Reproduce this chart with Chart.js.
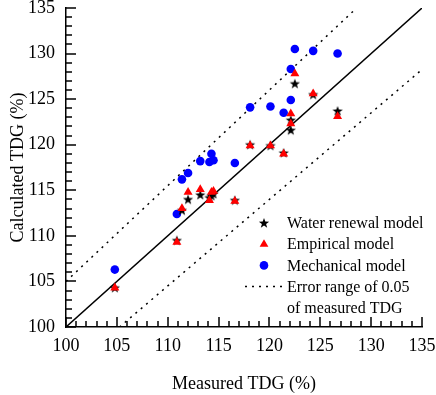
<!DOCTYPE html>
<html lang="en">
<head>
<meta charset="UTF-8">
<title>Calculated vs measured TDG</title>
<script src="https://cdn.jsdelivr.net/npm/chart.js"></script>
<style>
body{
  margin:0;
  background:white;
}
#wrap{
  width:436px;
  height:395px;
  position:relative;
}
</style>
</head>
<body>

<div id="wrap"><canvas id="chart" width="436" height="395"></canvas></div>

<script>
// measured TDG (%) shared by all three models
const measured      = [104.8, 110.9, 111.4, 112.0, 113.2, 114.1, 114.3, 114.5, 116.6, 118.1, 120.1, 121.4, 122.1, 122.1, 122.5, 124.3, 126.7];
// calculated TDG (%)
const waterRenewal  = [104.3, 109.5, 112.8, 114.0, 114.5, 114.2, 114.4, 114.6, 113.9, 120.0, 119.9, 119.1, 122.7, 121.6, 126.7, 125.5, 123.7];
const empirical     = [104.3, 109.3, 113.0, 114.8, 115.1, 113.9, 114.8, 114.9, 113.8, 119.9, 119.9, 119.0, 123.4, 122.3, 127.8, 125.6, 123.1];
const mechanical    = [106.3, 112.4, 116.2, 116.9, 118.2, 118.1, 119.0, 118.3, 118.0, 124.1, 124.2, 123.5, 124.9, 128.3, 130.5, 130.3, 130.0];

// reference lines (end points)
const perfectLine   = [[100, 100], [135, 135]];
const upperError    = [[100, 105], [128.57, 135]];
const lowerError    = [[105.26, 100], [135, 128.25]];

const axisMin = 100, axisMax = 135, majorStep = 5, minorStep = 1;

const legendItems = ["Water renewal model", "Empirical model", "Mechanical model", "Error range of 0.05", "of measured TDG"];

const FONT = '"Liberation Serif", "Times New Roman", serif';

function pts(xs, ys){ return xs.map((x,i)=>({x:x, y:ys[i]})); }
function linePts(a){ return a.map(p=>({x:p[0], y:p[1]})); }

// filled five point star for the water renewal model
function starPath(ctx, cx, cy, ro, ri){
  ctx.beginPath();
  for(let i=0;i<10;i++){
    let r = i%2===0 ? ro : ri;
    let a = -Math.PI/2 + i*Math.PI/5;
    let px = cx + Math.cos(a)*r, py = cy + Math.sin(a)*r;
    if(i===0) ctx.moveTo(px,py); else ctx.lineTo(px,py);
  }
  ctx.closePath();
}
const starImg = document.createElement('canvas');
starImg.width = 12; starImg.height = 12;
(function(){
  let c = starImg.getContext('2d');
  c.fillStyle = '#000';
  starPath(c, 6, 6.4, 5.4, 2.2);
  c.fill();
})();

// legend inside the plot area + inward major/minor ticks
const decor = {
  id:'decor',
  afterDraw(chart){
    const ctx = chart.ctx;
    const mx = 264, tx = 287, y0 = 223, dy = 21.2;
    ctx.save();
    ctx.font = '16px ' + FONT;
    ctx.fillStyle = '#000';
    ctx.textBaseline = 'middle';
    ctx.textAlign = 'left';
    legendItems.forEach((t,i)=>{ ctx.fillText(t, tx, y0 + i*dy + 1); });

    // star
    ctx.fillStyle = '#000';
    starPath(ctx, mx, y0 + 0.4, 5.4, 2.2);
    ctx.fill();
    // triangle
    let ty = y0 + dy;
    ctx.fillStyle = '#ff0000';
    ctx.beginPath();
    ctx.moveTo(mx, ty - 5); ctx.lineTo(mx + 4.4, ty + 2.6); ctx.lineTo(mx - 4.4, ty + 2.6);
    ctx.closePath(); ctx.fill();
    // circle
    ctx.fillStyle = '#0000ff';
    ctx.beginPath();
    ctx.arc(mx, y0 + 2*dy, 4.3, 0, Math.PI*2);
    ctx.fill();
    // dotted line
    ctx.strokeStyle = '#000';
    ctx.lineWidth = 1.5;
    ctx.setLineDash([2,5]);
    ctx.beginPath();
    ctx.moveTo(245, y0 + 3*dy); ctx.lineTo(283, y0 + 3*dy);
    ctx.stroke();

    // tick marks
    const xs = chart.scales.x, ys = chart.scales.y, ca = chart.chartArea;
    ctx.fillStyle = '#000';
    for(let v=axisMin; v<=axisMax; v+=minorStep){
      let len = (v % majorStep === 0) ? 10 : 6;
      let px = Math.round(xs.getPixelForValue(v));
      let py = Math.round(ys.getPixelForValue(v));
      ctx.fillRect(px - 0.75, ca.bottom - len, 1.5, len);
      ctx.fillRect(ca.left, py - 0.75, len, 1.5);
    }
    ctx.restore();
  }
};

const tickVals = [];
for(let v=axisMin; v<=axisMax; v+=majorStep) tickVals.push(v);

function axis(title, isY){
  return {
    type:'linear',
    min:axisMin,
    max:axisMax,
    afterBuildTicks(s){ s.ticks = tickVals.map(v=>({value:v})); },
    afterFit(s){
      if(isY){ s.width = 66; s.paddingTop = 0; s.paddingBottom = 0; }
      else { s.height = 68; s.paddingLeft = 0; s.paddingRight = 0; }
    },
    grid:{display:false, drawTicks:false},
    border:{display:true, color:'#000', width:1.5},
    ticks:{
      color:'#000',
      font:{family:FONT, size:18},
      padding: isY ? 11 : 8,
      maxRotation:0,
      autoSkip:false
    },
    title:{
      display:true,
      text:title,
      color:'#000',
      font:{family:FONT, size:18, lineHeight:1.2},
      padding: isY ? {top:7, bottom:0} : {top:0, bottom:0}
    }
  };
}

new Chart(document.getElementById('chart'), {
  type:'scatter',
  data:{
    datasets:[
      {
        label:'Water renewal model',
        data:pts(measured, waterRenewal),
        pointStyle:starImg,
        pointRadius:5,
        order:2
      },
      {
        label:'Empirical model',
        data:pts(measured, empirical),
        pointStyle:'triangle',
        pointRadius:5.2,
        backgroundColor:'#ff0000',
        borderColor:'#ff0000',
        borderWidth:0,
        order:1
      },
      {
        label:'Mechanical model',
        data:pts(measured, mechanical),
        pointStyle:'circle',
        pointRadius:4.3,
        backgroundColor:'#0000ff',
        borderColor:'#0000ff',
        borderWidth:0,
        order:3
      },
      {
        label:'y = x',
        data:linePts(perfectLine),
        showLine:true,
        pointRadius:0,
        borderColor:'#000',
        borderWidth:1.5,
        order:10
      },
      {
        label:'upper',
        data:linePts(upperError),
        showLine:true,
        pointRadius:0,
        borderColor:'#000',
        borderWidth:1.5,
        borderDash:[2,5],
        order:10
      },
      {
        label:'lower',
        data:linePts(lowerError),
        showLine:true,
        pointRadius:0,
        borderColor:'#000',
        borderWidth:1.5,
        borderDash:[2,5],
        order:10
      }
    ]
  },
  options:{
    responsive:false,
    animation:false,
    layout:{padding:{top:8, right:14, left:0, bottom:0}},
    plugins:{
      legend:{display:false},
      tooltip:{enabled:false}
    },
    scales:{
      x:axis('Measured TDG (%)', false),
      y:axis('Calculated TDG (%)', true)
    }
  },
  plugins:[decor]
});
</script>

</body>
</html>
